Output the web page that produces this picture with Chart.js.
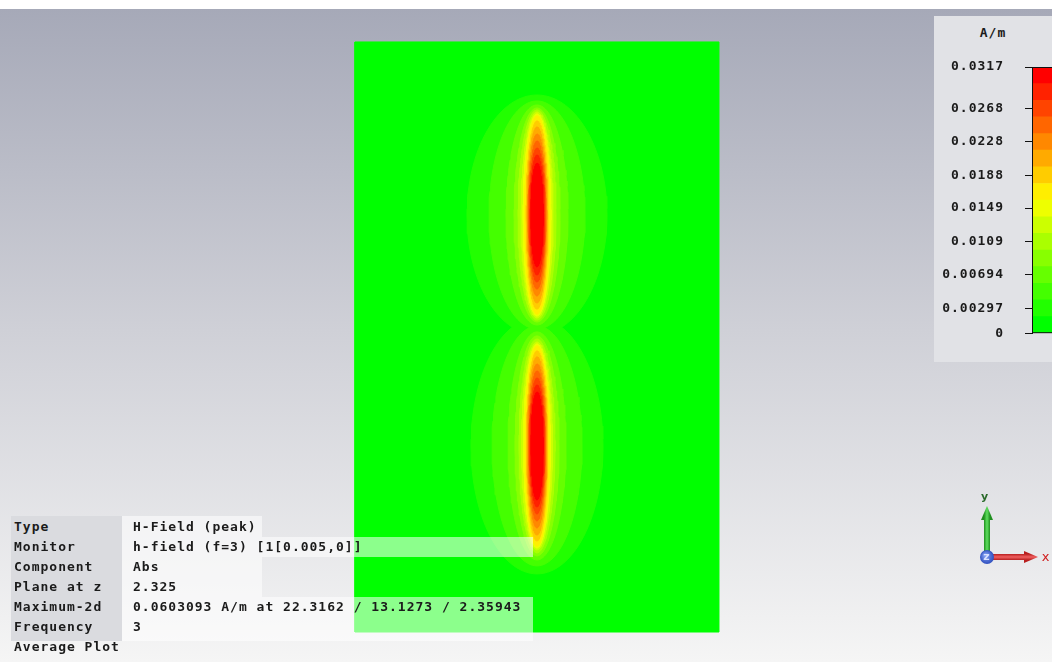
<!DOCTYPE html>
<html>
<head>
<meta charset="utf-8">
<script src="https://cdn.jsdelivr.net/npm/chart.js@4/dist/chart.umd.min.js"></script>
<style>
  html, body { margin: 0; padding: 0; }
  body {
    width: 1052px; height: 662px; overflow: hidden; position: relative;
    background: linear-gradient(to bottom, #ffffff 0px, #ffffff 9px, #a6a9b8 9px, #cfd0d7 330px, #f5f5f5 662px);
    font-family: "DejaVu Sans Mono", "Liberation Mono", monospace;
    font-weight: bold; font-size: 13px; letter-spacing: 1px; color: #1b1b1b;
  }
  #field { position: absolute; left: 0; top: 0; }
  .panel { position: absolute; left: 934px; top: 16px; width: 130px; height: 346px; background: #e1e2e6; }
  .unit { position: absolute; left: 0; top: 9px; width: 118px; text-align: center; }
  #bar { position: absolute; left: 934px; top: 16px; }
  .cell { position: absolute; height: 20px; line-height: 20px; white-space: pre; }
  .bg { position: absolute; }
</style>
</head>
<body>
<canvas id="field" width="1052" height="662"></canvas>
<div class="panel"><div class="unit">A/m</div></div>
<canvas id="bar" width="130" height="346"></canvas>
<div id="info"></div>
<script>
// ---- colour legend (A/m) ----
const legendTickLabels = ['0', '0.00297', '0.00694', '0.0109', '0.0149', '0.0188', '0.0228', '0.0268', '0.0317'];
const legendTickValues = [0, 0.00297, 0.00694, 0.0109, 0.0149, 0.0188, 0.0228, 0.0268, 0.0317];
const legendMax = 0.0317;
const bandCount = 16;

// ---- geometry (mm) ----
const substrateX = [0, 44.6];
const substrateY = [0, 72.3];
const lobeCenterX = [22.3, 22.3];   // upper lobe, lower lobe
const lobeCenterY = [51.1, 22.8];

// contour extents for levels 1..15 (half width / half height, mm)
const upperHalfWidth  = [8.58, 5.88, 3.80, 2.82, 2.33, 1.96, 1.72, 1.53, 1.35, 1.23, 1.13, 1.04, 0.96, 0.86, 0.76];
const upperHalfHeight = [14.70, 13.97, 13.48, 13.11, 12.87, 12.62, 12.38, 12.13, 11.52, 10.78, 9.93, 9.07, 8.21, 7.35, 6.37];
const lowerHalfWidth  = [8.09, 5.51, 3.55, 2.70, 2.21, 1.90, 1.65, 1.47, 1.31, 1.20, 1.10, 1.02, 0.93, 0.85, 0.75];
const lowerHalfHeight = [15.68, 14.70, 13.97, 13.48, 13.11, 12.74, 12.50, 12.25, 11.64, 10.91, 10.05, 9.19, 8.33, 7.47, 6.62];

// ---- info table ----
const infoLabels = ['Type', 'Monitor', 'Component', 'Plane at z', 'Maximum-2d', 'Frequency', 'Average Plot'];
const infoValues = ['H-Field (peak)', 'h-field (f=3) [1[0.005,0]]', 'Abs', '2.325',
                    '0.0603093 A/m at 22.3162 / 13.1273 / 2.35943', '3', ''];

// green -> yellow -> red map used by both the plot and the legend
function bandColor(i) {
  const t = i / (bandCount - 1);
  const r = t < 0.5 ? Math.round(510 * t) : 255;
  const g = t < 0.5 ? 255 : Math.round(510 * (1 - t));
  return `rgb(${r},${g},0)`;
}

// closed outline through a contour's measured extents
function contourOutline(cx, cy, hw, hh) {
  const pts = [];
  const n = 120;
  for (let s = 0; s <= n; s++) {
    const a = s / n * 2 * Math.PI;
    pts.push({ x: cx + hw * Math.sin(a), y: cy + hh * Math.cos(a) });
  }
  return pts;
}

function shapeDataset(points, color, paintIndex) {
  return {
    data: points, showLine: true, fill: 'shape', tension: 0,
    backgroundColor: color, borderColor: color, borderWidth: 1,
    pointRadius: 0, order: 1000 - paintIndex
  };
}

const datasets = [];
let paint = 0;
datasets.push(shapeDataset([
  { x: substrateX[0], y: substrateY[0] }, { x: substrateX[1], y: substrateY[0] },
  { x: substrateX[1], y: substrateY[1] }, { x: substrateX[0], y: substrateY[1] },
  { x: substrateX[0], y: substrateY[0] }
], bandColor(0), paint++));

for (let k = 0; k < upperHalfWidth.length; k++) {
  const color = bandColor(k + 1);
  datasets.push(shapeDataset(contourOutline(lobeCenterX[0], lobeCenterY[0], upperHalfWidth[k], upperHalfHeight[k]), color, paint++));
  datasets.push(shapeDataset(contourOutline(lobeCenterX[1], lobeCenterY[1], lowerHalfWidth[k], lowerHalfHeight[k]), color, paint++));
}

// coordinate triad in the lower right corner
const triad = {
  id: 'triad',
  afterDraw(chart) {
    const ctx = chart.ctx;
    const ox = 987, oy = 557;
    ctx.save();
    // y arrow
    let g = ctx.createLinearGradient(ox - 3, 0, ox + 3, 0);
    g.addColorStop(0, '#1f8f1f'); g.addColorStop(0.5, '#5fe05f'); g.addColorStop(1, '#1f8f1f');
    ctx.fillStyle = g;
    ctx.fillRect(ox - 3, oy - 38, 6, 38);
    ctx.beginPath();
    ctx.moveTo(ox - 6, oy - 37); ctx.lineTo(ox + 6, oy - 37); ctx.lineTo(ox, oy - 51); ctx.closePath();
    ctx.fill();
    // x arrow
    g = ctx.createLinearGradient(0, oy - 3, 0, oy + 3);
    g.addColorStop(0, '#b81f1f'); g.addColorStop(0.5, '#f06060'); g.addColorStop(1, '#b81f1f');
    ctx.fillStyle = g;
    ctx.fillRect(ox, oy - 3, 38, 6);
    ctx.beginPath();
    ctx.moveTo(ox + 37, oy - 6); ctx.lineTo(ox + 37, oy + 6); ctx.lineTo(ox + 51, oy); ctx.closePath();
    ctx.fill();
    // z marker
    const rg = ctx.createRadialGradient(ox - 2, oy - 2, 1, ox, oy, 7);
    rg.addColorStop(0, '#7f9cf0'); rg.addColorStop(1, '#2f4fbf');
    ctx.fillStyle = rg;
    ctx.beginPath(); ctx.arc(ox, oy, 7, 0, 2 * Math.PI); ctx.fill();
    ctx.font = 'bold 11px "DejaVu Sans"';
    ctx.textAlign = 'center'; ctx.textBaseline = 'middle';
    ctx.fillStyle = '#d8e0ff';
    ctx.fillText('z', ox, oy);
    ctx.fillStyle = '#2a6a2a';
    ctx.fillText('y', ox - 2, oy - 60);
    ctx.fillStyle = '#d02020';
    ctx.font = '13px "DejaVu Sans"';
    ctx.fillText('x', ox + 59, oy + 1);
    ctx.restore();
  }
};

// pixel scale: 8.161 px per mm, substrate origin at (355, 632)
const pxPerMm = 8.161;
new Chart(document.getElementById('field'), {
  type: 'scatter',
  data: { datasets },
  options: {
    responsive: false, animation: false, events: [],
    layout: { padding: 0 },
    scales: {
      x: { type: 'linear', display: false, min: -355 / pxPerMm, max: (1052 - 355) / pxPerMm },
      y: { type: 'linear', display: false, min: -(662 - 632) / pxPerMm, max: 632 / pxPerMm }
    },
    plugins: { legend: { display: false }, tooltip: { enabled: false } }
  },
  plugins: [triad]
});

// ---- colour bar ----
const bandSize = legendMax / bandCount;
const barSets = [];
for (let i = 0; i < bandCount; i++) {
  barSets.push({
    data: [[i * bandSize, (i + 1) * bandSize]],
    backgroundColor: bandColor(i), borderWidth: 0,
    barPercentage: 1, categoryPercentage: 1
  });
}
const frame = {
  id: 'frame',
  beforeDraw(chart) { chart.ctx.letterSpacing = '1px'; },
  afterDatasetsDraw(chart) {
    const { ctx, chartArea: a } = chart;
    ctx.save();
    ctx.strokeStyle = '#111'; ctx.lineWidth = 1;
    ctx.strokeRect(a.left + 0.5, a.top + 0.5, a.right - a.left, a.bottom - a.top - 1);
    ctx.restore();
  }
};
new Chart(document.getElementById('bar'), {
  type: 'bar',
  data: { labels: ['A/m'], datasets: barSets },
  options: {
    responsive: false, animation: false, events: [],
    layout: { padding: { top: 51, bottom: 24, left: 0, right: 0 } },
    scales: {
      x: { display: false, stacked: true },
      y: {
        min: 0, max: legendMax,
        afterFit(scale) { scale.width = 98; },
        afterBuildTicks(scale) { scale.ticks = legendTickValues.map(v => ({ value: v })); },
        ticks: {
          padding: 21, color: '#1b1b1b',
          font: { family: '"DejaVu Sans Mono"', weight: 'bold', size: 13 },
          callback: (v, i) => legendTickLabels[i]
        },
        grid: { drawOnChartArea: false, drawTicks: true, tickLength: 7, color: '#111', lineWidth: 1 },
        border: { display: true, color: '#111', width: 1 }
      }
    },
    plugins: { legend: { display: false }, tooltip: { enabled: false } }
  },
  plugins: [frame]
});

// ---- info table ----
const info = document.getElementById('info');
function box(left, top, width, height, color) {
  const d = document.createElement('div');
  d.className = 'bg';
  Object.assign(d.style, { left: left + 'px', top: top + 'px', width: width + 'px', height: height + 'px', background: color });
  info.appendChild(d);
}
box(11, 516, 111, 125, 'rgb(218,219,223)');
const valueBg = 'rgba(255,255,255,0.55)';
box(122, 516, 140, 21, valueBg);
box(122, 537, 411, 20, valueBg);
box(122, 557, 140, 20, valueBg);
box(122, 577, 140, 20, valueBg);
box(122, 597, 411, 44, valueBg);
infoLabels.forEach((label, i) => {
  const l = document.createElement('div');
  l.className = 'cell'; l.style.left = '14px'; l.style.top = (517 + i * 20) + 'px';
  l.textContent = label; info.appendChild(l);
  const v = document.createElement('div');
  v.className = 'cell'; v.style.left = '133px'; v.style.top = (517 + i * 20) + 'px';
  v.textContent = infoValues[i]; info.appendChild(v);
});
</script>
</body>
</html>
